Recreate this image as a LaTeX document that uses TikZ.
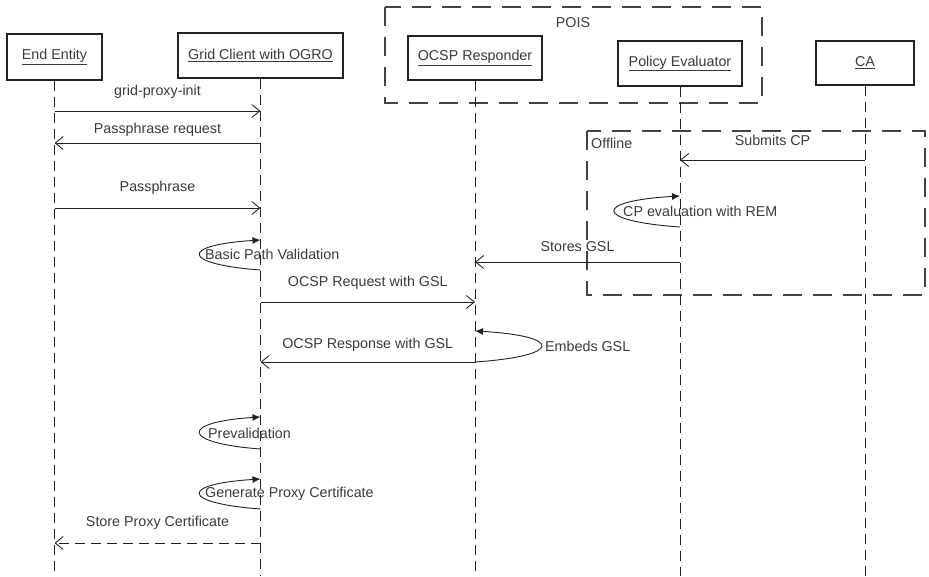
\documentclass[tikz,border=0pt]{standalone}
\usepackage{fontspec}
\setmainfont{Liberation Sans}
\usetikzlibrary{arrows.meta}
\definecolor{ink}{HTML}{222222}
\definecolor{txt}{HTML}{3A3A3A}
\tikzset{
  every node/.style={font=\fontsize{14.3}{16}\selectfont, text=txt},
  actor/.style={draw=ink, line width=1.1pt, fill=white, inner sep=0pt},
  lifeline/.style={draw=ink, line width=0.9pt, dash pattern=on 10pt off 6pt},
  frame/.style={draw=ink!85, line width=1.3pt, dash pattern=on 19pt off 11pt},
  msg/.style={draw=ink, line width=0.9pt, -{Straight Barb[length=8pt,width=13pt]}},
  reply/.style={msg, dash pattern=on 10pt off 6pt},
  selfcall/.style={draw=ink, line width=0.9pt, -{Latex[length=8pt,width=7pt]}},
  lbl/.style={inner sep=0pt, midway},
  note/.style={inner sep=0pt, anchor=west},
}
\begin{document}
\begin{tikzpicture}[x=1pt, y=-1pt]
\useasboundingbox (0,0) rectangle (929,576);

% grouping frames
\draw[frame] (385,7) rectangle (762,103);
\node (pois) at (573,23) {POIS};
\draw[frame] (587,131) rectangle (925,295);
\node[note] (offline) at (591,143) {Offline};

% participants
\node[actor, minimum width=95pt,  minimum height=46pt] (ee)   at (54.5,57)  {\underline{End Entity}};
\node[actor, minimum width=165pt, minimum height=45pt] (gc)   at (260.5,55.5) {\underline{Grid Client with OGRO}};
\node[actor, minimum width=134pt, minimum height=44pt] (ocsp) at (475,58)   {\underline{OCSP Responder}};
\node[actor, minimum width=124pt, minimum height=45pt] (pe)   at (680,63.5) {\underline{Policy Evaluator}};
\node[actor, minimum width=98pt,  minimum height=44pt] (ca)   at (865,63)   {\underline{CA}};

% lifelines
\coordinate (bottom) at (0,576);
\foreach \p in {ee,gc,ocsp,pe,ca}
  \draw[lifeline] (\p.south) -- (\p |- bottom);

% message rows
\coordinate (r1)  at (0,111);
\coordinate (r2)  at (0,143);
\coordinate (r3)  at (0,208);
\coordinate (r4)  at (0,160);
\coordinate (r5)  at (0,262);
\coordinate (r6)  at (0,302);
\coordinate (r7)  at (0,362);
\coordinate (r8)  at (0,543);

\draw[msg] (ee |- r1) -- (gc |- r1) node[lbl, yshift=19pt] {grid-proxy-init};
\draw[msg] (gc |- r2) -- (ee |- r2) node[lbl, yshift=13pt] {Passphrase request};
\draw[msg] (ee |- r3) -- (gc |- r3) node[lbl, yshift=20pt] {Passphrase};
\draw[msg] (ca |- r4) -- (pe |- r4) node[lbl, yshift=20pt] {Submits CP};
\draw[msg] (pe |- r5) -- (ocsp |- r5) node[lbl, yshift=15pt] {Stores GSL};
\draw[msg] (gc |- r6) -- (ocsp |- r6) node[lbl, yshift=19pt] {OCSP Request with GSL};
\draw[msg] (ocsp |- r7) -- (gc |- r7) node[lbl, yshift=17pt] {OCSP Response with GSL};
\draw[reply] (gc |- r8) -- (ee |- r8) node[lbl, yshift=20pt] {Store Proxy Certificate};

% self calls
\coordinate (s1a) at (0,270); \coordinate (s1b) at (0,240);
\draw[selfcall] (gc |- s1a) .. controls (180,264) and (180,245) .. (gc |- s1b);
\node[note] (bpv) at (205,254) {Basic Path Validation};

\coordinate (s2a) at (0,227); \coordinate (s2b) at (0,196);
\draw[selfcall] (pe |- s2a) .. controls (593,221) and (593,201) .. (pe |- s2b);
\node[note] (cpe) at (623,211) {CP evaluation with REM};

\coordinate (s3a) at (0,362); \coordinate (s3b) at (0,331);
\draw[selfcall] (ocsp |- s3a) .. controls (563,356) and (563,336) .. (ocsp |- s3b);
\node[note] (emb) at (545,346) {Embeds GSL};

\coordinate (s4a) at (0,449); \coordinate (s4b) at (0,417);
\draw[selfcall] (gc |- s4a) .. controls (180,443) and (180,422) .. (gc |- s4b);
\node[note] (prv) at (208,433) {Prevalidation};

\coordinate (s5a) at (0,509); \coordinate (s5b) at (0,479);
\draw[selfcall] (gc |- s5a) .. controls (180,503) and (180,484) .. (gc |- s5b);
\node[note] (gpc) at (205,494) {Generate Proxy Certificate};
\end{tikzpicture}
\end{document}
